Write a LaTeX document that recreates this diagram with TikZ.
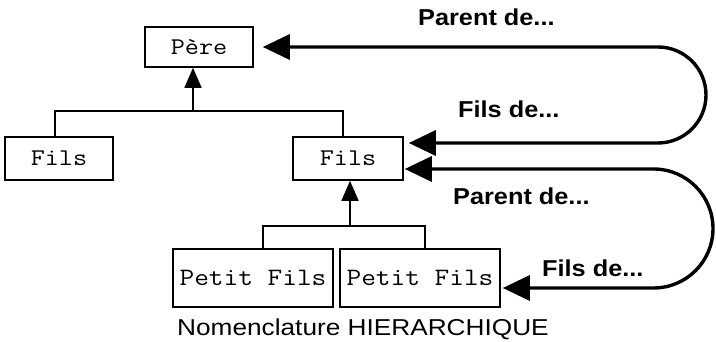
\documentclass[tikz,border=0pt]{standalone}
\usepackage{fontspec}
\newfontfamily\labfont[FakeStretch=1.1]{Liberation Sans}
\newfontfamily\titlefont[FakeStretch=1.14]{Liberation Sans}
\newfontfamily\boxfont[FakeStretch=1.14]{Latin Modern Mono}
\usetikzlibrary{arrows.meta,calc}
\tikzset{
  box/.style={draw, line width=1.6pt, inner sep=0pt, font=\boxfont\fontsize{24}{28}\selectfont},
  tree/.style={line width=1.6pt},
  treearrow/.style={tree, -{Triangle[length=20pt,width=17pt]}},
  bigline/.style={line width=3.4pt, {Triangle[length=27pt,width=25pt]}-{Triangle[length=27pt,width=25pt]}},
  lab/.style={inner sep=0pt, anchor=base west, font=\labfont\bfseries\fontsize{23}{27}\selectfont},
  title/.style={inner sep=0pt, anchor=base west, font=\titlefont\fontsize{23}{27}\selectfont}
}
\begin{document}
\begin{tikzpicture}[x=1pt,y=-1pt]
\useasboundingbox (0,0) rectangle (716,342);
\node[box, minimum width=108pt, minimum height=40pt] (pere) at (199,47) {Père};
\node[box, minimum width=108pt, minimum height=43pt] (fils1) at (59,158.5) {Fils};
\node[box, minimum width=110pt, minimum height=43pt] (fils2) at (348,158.5) {Fils};
\node[box, minimum width=160pt, minimum height=58pt, font=\boxfont\fontsize{25}{29}\selectfont] (pf1) at (253,278) {Petit Fils};
\node[box, minimum width=160pt, minimum height=58pt, font=\boxfont\fontsize{25}{29}\selectfont] (pf2) at (420,278) {Petit Fils};

\coordinate (jA) at (55,111);
\coordinate (jB) at (343,111);
\coordinate (j0) at (193,111);
\draw[tree] (fils1.north -| jA) -- (jA) -- (jB) -- (fils2.north -| jB);
\draw[treearrow] (j0) -- (pere.south -| j0);

\coordinate (jC) at (263,226);
\coordinate (jD) at (425,226);
\coordinate (j1) at (350,226);
\draw[tree] (pf1.north -| jC) -- (jC) -- (jD) -- (pf2.north -| jD);
\draw[treearrow] (j1) -- (fils2.south -| j1);

\draw[bigline] ($(pere.east)+(9,0)$) -- (658,47)
  .. controls (684.5,47) and (706,68.5) .. (706,95)
  .. controls (706,121.5) and (684.5,143) .. (658,143)
  -- ($(fils2.east)+(5,-15.5)$);
\draw[bigline] ($(fils2.east)+(1,10.5)$) -- (653.5,169)
  .. controls (686.4,169) and (713,195.6) .. (713,228.5)
  .. controls (713,261.4) and (686.4,288) .. (653.5,288)
  -- ($(pf2.east)+(2,10)$);

\node[lab] (l1) at (418,26) {Parent de...};
\node[lab] (l2) at (458,118) {Fils de...};
\node[lab] (l3) at (453,205) {Parent de...};
\node[lab] (l4) at (542,277) {Fils de...};
\node[title] (t) at (177,335) {Nomenclature HIERARCHIQUE};
\end{tikzpicture}
\end{document}
